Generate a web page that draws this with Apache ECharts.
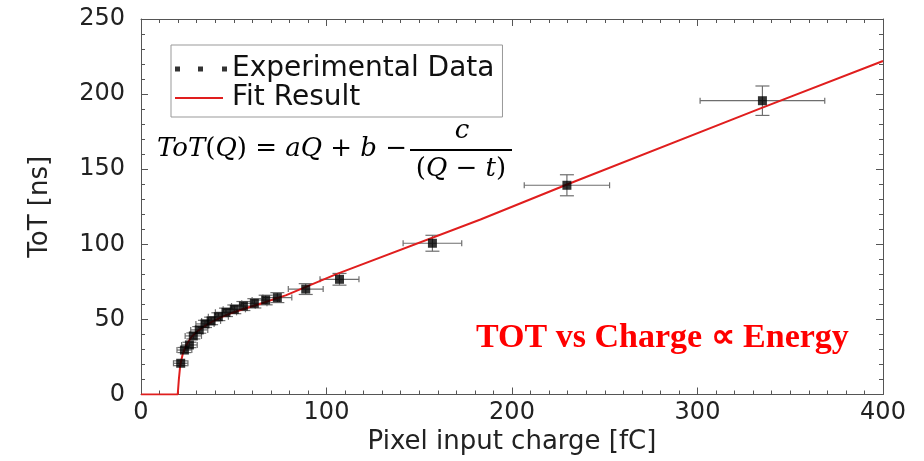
<!DOCTYPE html>
<html>
<head>
<meta charset="utf-8">
<script src="https://cdn.jsdelivr.net/npm/echarts@6/dist/echarts.min.js"></script>
<style>
  html, body { margin: 0; padding: 0; background: #fff; }
  #chart { width: 924px; height: 461px; }
</style>
</head>
<body>
<div id="chart"></div>
<script>
// Measured points: pixel input charge [fC], ToT [ns] and their uncertainties
const charge    = [21.4, 23.4, 26.1, 28.2, 31.4, 34.5, 37.8, 41.7, 45.8, 50.3, 55.2, 61.1, 67.2, 73.5, 88.8, 107, 157.1, 229.6, 335];
const tot       = [20.8, 29.6, 33.0, 39.0, 43.0, 47.0, 49.0, 51.8, 54.7, 56.7, 58.9, 60.7, 62.9, 64.5, 70.2, 76.7, 100.7, 139.3, 195.6];
const chargeErr = [3.9, 4.0, 4.2, 4.4, 4.6, 4.9, 5.1, 5.4, 5.7, 6.0, 6.4, 6.8, 7.3, 7.8, 9.4, 10.5, 15.8, 23.0, 33.6];
const totErr    = [1.6, 1.7, 1.8, 2.0, 2.2, 2.4, 2.5, 2.6, 2.8, 2.9, 3.0, 3.1, 3.2, 3.3, 3.6, 3.9, 5.3, 7.0, 9.8];

// Fitted ToT(Q) curve, sampled along the drawn fit
const fitCharge = [0, 19.8, 20.4, 21.2, 22.5, 24.5, 27, 30, 34, 38, 43, 49, 56, 64, 71, 78, 105, 183, 230, 335, 400];
const fitTot    = [0, 0, 10, 20, 27, 33, 38, 41.8, 45.3, 48.2, 51.3, 54.3, 57.3, 60.3, 63.2, 66, 80, 116.5, 140, 191, 222];

// Axis ticks
const xTicks = { min: 0, max: 400, interval: 100 };
const yTicks = { min: 0, max: 250, interval: 50 };

const FONT = 'DejaVu Sans';
const MATH_FONT = 'DejaVu Serif';
const MATH_SIZE = 26;
const AXIS_COLOR = '#555';
const FIT_COLOR = '#e01e1e';

const points = charge.map((q, i) => [q, tot[i], chargeErr[i], totErr[i]]);
const fitLine = fitCharge.map((q, i) => [q, fitTot[i]]);

function frameAxis(ticks, minorSplit, extra) {
  return Object.assign({
    type: 'value',
    min: ticks.min,
    max: ticks.max,
    interval: ticks.interval,
    axisLine: { show: true, onZero: false, lineStyle: { color: AXIS_COLOR, width: 1 } },
    axisTick: { show: true, inside: true, length: 7, lineStyle: { color: AXIS_COLOR, width: 1 } },
    minorTick: { show: true, splitNumber: minorSplit, length: 4, lineStyle: { color: AXIS_COLOR, width: 1 } },
    splitLine: { show: false },
    minorSplitLine: { show: false }
  }, extra);
}

const italic = { fontFamily: MATH_FONT, fontSize: MATH_SIZE, fontStyle: 'italic', fill: '#000' };

const chart = echarts.init(document.getElementById('chart'), null, { renderer: 'canvas' });

chart.setOption({
  animation: false,
  backgroundColor: '#fff',
  grid: { left: 141, right: 41, top: 19, bottom: 66.5, outerBoundsMode: 'none' },
  xAxis: [
    frameAxis(xTicks, 10, {
      position: 'bottom',
      axisLabel: { fontFamily: FONT, fontSize: 24, color: '#222', margin: 6 },
      name: 'Pixel input charge [fC]',
      nameLocation: 'middle',
      nameGap: 31,
      nameTextStyle: { fontFamily: FONT, fontSize: 26, color: '#222' }
    }),
    frameAxis(xTicks, 10, { position: 'top', axisLabel: { show: false } })
  ],
  yAxis: [
    frameAxis(yTicks, 5, {
      position: 'left',
      axisLabel: { fontFamily: FONT, fontSize: 24, color: '#222', margin: 16 },
      name: 'ToT [ns]',
      nameLocation: 'middle',
      nameGap: 88,
      nameTextStyle: { fontFamily: FONT, fontSize: 26, color: '#222' }
    }),
    frameAxis(yTicks, 5, { position: 'right', axisLabel: { show: false } })
  ],
  legend: {
    orient: 'vertical',
    left: 171,
    top: 45,
    padding: [10, 8, 5, 4],
    itemGap: 1,
    itemWidth: 52,
    itemHeight: 5,
    selectedMode: false,
    borderColor: '#999',
    borderWidth: 1,
    borderRadius: 0,
    backgroundColor: '#fff',
    textStyle: { fontFamily: FONT, fontSize: 28, color: '#111' },
    data: [
      { name: 'Experimental Data', icon: 'path://M0,0h5v5h-5zM23,0h5v5h-5zM47,0h5v5h-5z' },
      { name: 'Fit Result', icon: 'path://M0,0M52,5M0,1.6h48v1.8h-48z' }
    ]
  },
  series: [
    {
      name: 'Fit Result',
      type: 'line',
      data: fitLine,
      symbol: 'none',
      smooth: false,
      clip: true,
      lineStyle: { color: FIT_COLOR, width: 2 },
      itemStyle: { color: FIT_COLOR },
      z: 3
    },
    {
      name: 'Error bars',
      type: 'custom',
      data: points,
      encode: { x: 0, y: 1 },
      z: 2,
      renderItem: function (params, api) {
        const q = api.value(0), t = api.value(1), eq = api.value(2), et = api.value(3);
        const c = api.coord([q, t]);
        const l = api.coord([q - eq, t]);
        const r = api.coord([q + eq, t]);
        const top = api.coord([q, t + et]);
        const bot = api.coord([q, t - et]);
        const capV = 3;
        const capH = 7;
        const style = { stroke: '#6e6e6e', lineWidth: 1.2 };
        return {
          type: 'group',
          children: [
            { type: 'line', shape: { x1: l[0], y1: c[1], x2: r[0], y2: c[1] }, style: style },
            { type: 'line', shape: { x1: l[0], y1: c[1] - capV, x2: l[0], y2: c[1] + capV }, style: style },
            { type: 'line', shape: { x1: r[0], y1: c[1] - capV, x2: r[0], y2: c[1] + capV }, style: style },
            { type: 'line', shape: { x1: c[0], y1: top[1], x2: c[0], y2: bot[1] }, style: style },
            { type: 'line', shape: { x1: c[0] - capH, y1: top[1], x2: c[0] + capH, y2: top[1] }, style: style },
            { type: 'line', shape: { x1: c[0] - capH, y1: bot[1], x2: c[0] + capH, y2: bot[1] }, style: style }
          ]
        };
      }
    },
    {
      name: 'Experimental Data',
      type: 'scatter',
      data: points.map(p => [p[0], p[1]]),
      symbol: 'rect',
      symbolSize: 9,
      itemStyle: { color: '#000' },
      z: 4
    }
  ],
  graphic: [
    {
      type: 'text',
      left: 157,
      top: 136,
      style: {
        text: '{i|ToT}({i|Q}) = {i|aQ} + {i|b} −',
        fontFamily: MATH_FONT,
        fontSize: MATH_SIZE,
        fill: '#000',
        rich: { i: italic }
      }
    },
    {
      type: 'line',
      shape: { x1: 410, y1: 150, x2: 512, y2: 150 },
      style: { stroke: '#000', lineWidth: 2 }
    },
    {
      type: 'text',
      x: 462,
      y: 131,
      style: Object.assign({ text: 'c', align: 'center', verticalAlign: 'middle' }, italic)
    },
    {
      type: 'text',
      x: 461,
      y: 169,
      style: {
        text: '({i|Q} − {i|t})', align: 'center', verticalAlign: 'middle',
        fontFamily: MATH_FONT, fontSize: MATH_SIZE, fill: '#000',
        rich: { i: italic }
      }
    },
    {
      type: 'text',
      left: 476,
      top: 321,
      style: {
        text: 'TOT vs Charge ∝ Energy',
        fontFamily: 'Liberation Serif',
        fontSize: 34,
        fontWeight: 'bold',
        fill: '#ff0000'
      }
    }
  ]
});
</script>
</body>
</html>
